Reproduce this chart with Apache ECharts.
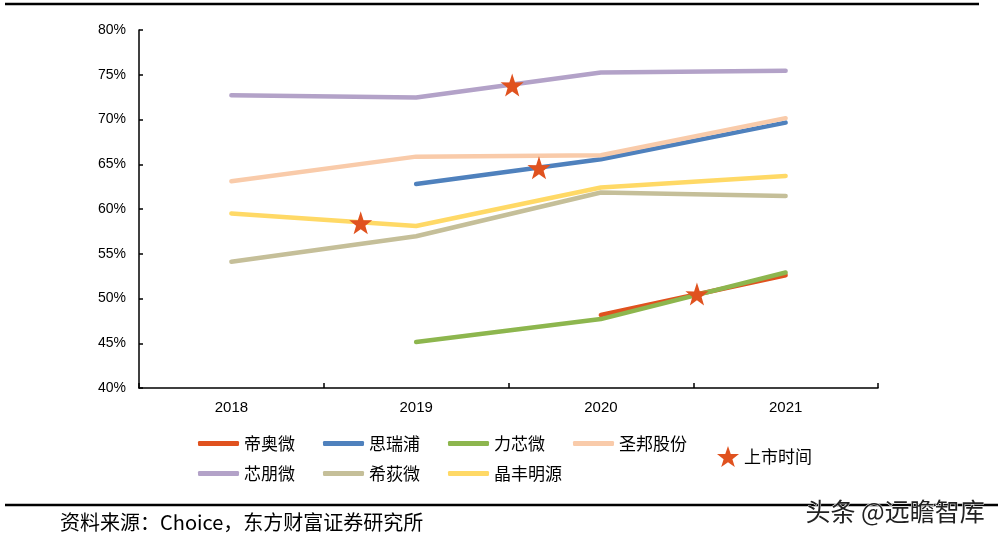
<!DOCTYPE html>
<html>
<head>
<meta charset="utf-8">
<script src="https://cdn.jsdelivr.net/npm/echarts@6/dist/echarts.min.js"></script>
<style>
html,body{margin:0;padding:0;background:#fff;}
#chart{width:998px;height:542px;}
</style>
</head>
<body>
<div id="chart"></div>
<script>
// ---- data ----
const years = ['2018', '2019', '2020', '2021'];
const diaoWei   = [null, null, 48.15, 52.6];   // 帝奥微
const siRuiPu   = [null, 62.8, 65.55, 69.65];  // 思瑞浦
const liXinWei  = [null, 45.15, 47.7, 52.9];   // 力芯微
const shengBang = [63.1, 65.85, 66.0, 70.15];  // 圣邦股份
const xinPengWei= [72.7, 72.45, 75.25, 75.45]; // 芯朋微
const xiDiWei   = [54.1, 56.95, 61.85, 61.45]; // 希荻微
const jingFeng  = [59.5, 58.1, 62.4, 63.7];    // 晶丰明源
// 上市时间 markers: [position along the year axis (0 = 2018), value %]
const listingStars = [[0.70, 58.45], [1.52, 73.85], [1.665, 64.6], [2.52, 50.5]];
const yTicks = { min: 40, max: 80, step: 5 };

const starPath = 'path://M50,0 L61.8,35.1 L97.6,34.5 L69.1,56.9 L79.4,90.5 L50,70.2 L20.6,90.5 L30.9,56.9 L2.4,34.5 L38.2,35.1 Z';
const starColor = '#E0521F';
const cjk = '"Noto Sans CJK SC", sans-serif';

function lineSeries(name, data, color) {
  return {
    name, type: 'line', data, xAxisIndex: 0, yAxisIndex: 0,
    symbol: 'none', smooth: false, connectNulls: false,
    lineStyle: { color, width: 4.5, cap: 'round', join: 'round' },
    itemStyle: { color },
    emphasis: { disabled: true }
  };
}

const chart = echarts.init(document.getElementById('chart'), null, { renderer: 'canvas' });
const legendText = { fontFamily: cjk, fontSize: 17, color: '#000' };
chart.setOption({
  animation: false,
  backgroundColor: '#fff',
  grid: { left: 139, right: 120, top: 30, bottom: 154 },
  legend: [
    { data: ['帝奥微', '思瑞浦', '力芯微', '圣邦股份'], left: 193, top: 430,
      icon: 'roundRect', itemWidth: 41, itemHeight: 5, itemGap: 28, textStyle: legendText, selectedMode: false },
    { data: ['芯朋微', '希荻微', '晶丰明源'], left: 193, top: 460,
      icon: 'roundRect', itemWidth: 41, itemHeight: 5, itemGap: 28, textStyle: legendText, selectedMode: false },
    { data: ['上市时间'], left: 712, top: 441,
      icon: starPath, itemWidth: 22, itemHeight: 22, itemGap: 5, textStyle: legendText, selectedMode: false,
      itemStyle: { opacity: 1 } }
  ],
  xAxis: [
    { type: 'category', data: years, boundaryGap: true, gridIndex: 0,
      axisLine: { lineStyle: { color: '#000', width: 1.5 } },
      axisTick: { show: true, inside: true, length: 5, lineStyle: { color: '#000', width: 1.5 } },
      axisLabel: { color: '#000', fontSize: 15, fontFamily: '"Liberation Sans Narrow", "Liberation Sans", sans-serif', margin: 12 },
      splitLine: { show: false } },
    { type: 'value', min: -0.5, max: 3.5, gridIndex: 0, show: false }
  ],
  yAxis: {
    type: 'value', min: yTicks.min, max: yTicks.max, interval: yTicks.step,
    axisLine: { show: true, onZero: false, lineStyle: { color: '#000', width: 1.5 } },
    axisTick: { show: true, inside: true, length: 4, lineStyle: { color: '#000', width: 1.5 } },
    axisLabel: { formatter: '{value}%', color: '#000', fontSize: 14, fontFamily: '"Liberation Sans", sans-serif', margin: 13 },
    splitLine: { show: false }
  },
  series: [
    lineSeries('帝奥微', diaoWei, '#E0521F'),
    lineSeries('思瑞浦', siRuiPu, '#4F81BD'),
    lineSeries('力芯微', liXinWei, '#8DB64E'),
    lineSeries('圣邦股份', shengBang, '#F9CBAA'),
    lineSeries('芯朋微', xinPengWei, '#B3A2C8'),
    lineSeries('希荻微', xiDiWei, '#C5BF99'),
    lineSeries('晶丰明源', jingFeng, '#FFD966'),
    { name: '上市时间', type: 'scatter', xAxisIndex: 1, yAxisIndex: 0, data: listingStars,
      symbol: starPath, symbolSize: 23, itemStyle: { color: starColor, opacity: 1 }, z: 5,
      emphasis: { disabled: true } }
  ],
  graphic: [
    { type: 'line', shape: { x1: 5, y1: 4, x2: 979, y2: 4 }, style: { stroke: '#000', lineWidth: 2.5 } },
    { type: 'line', shape: { x1: 5, y1: 505, x2: 998, y2: 505 }, style: { stroke: '#000', lineWidth: 2.5 } },
    { type: 'text', left: 60, top: 512,
      style: { text: '资料来源：Choice，东方财富证券研究所', fontFamily: cjk, fontSize: 20, fill: '#000' } },
    { type: 'text', left: 805, top: 498,
      style: { text: '头条 @远瞻智库', fontFamily: cjk, fontSize: 25, fill: '#222', stroke: '#fff', lineWidth: 1 } }
  ]
});
</script>
</body>
</html>
